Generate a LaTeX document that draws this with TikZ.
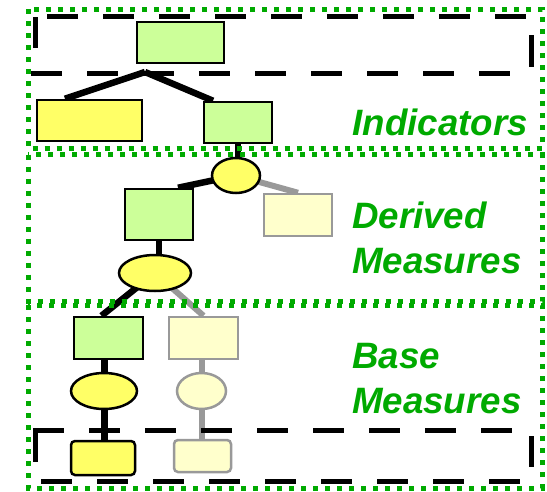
\documentclass[tikz,border=0pt]{standalone}
\usepackage{fontspec}
\newfontfamily\labfont{Liberation Sans}
\usetikzlibrary{shapes.geometric,backgrounds}
\definecolor{lgreen}{HTML}{CCFF99}
\definecolor{myyel}{HTML}{FFFF66}
\definecolor{pale}{HTML}{FFFFCC}
\definecolor{edgegray}{HTML}{999999}
\definecolor{labgreen}{HTML}{00AA00}
\begin{document}
\begin{tikzpicture}[x=1pt,y=-1pt,
  nbox/.style={rectangle, draw=black, line width=2.5pt, inner sep=0pt},
  gbox/.style={nbox, fill=lgreen},
  ybox/.style={nbox, fill=myyel},
  pbox/.style={nbox, draw=edgegray, fill=pale},
  yell/.style={ellipse, draw=black, line width=2.5pt, inner sep=0pt, fill=myyel},
  pell/.style={yell, draw=edgegray, fill=pale},
  blk/.style={draw=black, line width=6.5pt},
  gry/.style={draw=edgegray, line width=6pt},
  gframe/.style={draw=labgreen, line width=5pt, dash pattern=on 5pt off 7pt},
  bframe/.style={draw=black, line width=5pt, dash pattern=on 31pt off 25pt},
  bseg/.style={draw=black, line width=5pt},
  labl/.style={text=labgreen, inner sep=0pt, font=\labfont\bfseries\itshape\fontsize{36.7}{40}\selectfont}
]
\useasboundingbox (0,0) rectangle (547,491);

% green dotted level frames
\draw[gframe] (28,9) rectangle (542,148.5);
\draw[gframe] (28,154.5) rectangle (542,301);
\draw[gframe] (28,305) rectangle (542,488);

% black dashed frames
\draw[bframe] (47,16) -- (527,16);
\draw[bframe] (31,73) -- (513,73);
\draw[bseg] (35,17) -- (35,48);
\draw[bseg] (531,35) -- (531,67);

\draw[bframe] (33,430) -- (513,430);
\draw[bframe] (41,481) -- (521,481);
\draw[bseg] (35,430) -- (35,462);
\draw[bseg] (531,436) -- (531,467);

% nodes
\node[gbox, minimum width=87pt, minimum height=41pt] (top) at (180.5,42.5) {};
\coordinate (j) at (145,72);
\node[ybox, minimum width=105pt, minimum height=41pt] (ind1) at (89.5,120.5) {};
\node[gbox, minimum width=68pt, minimum height=41pt] (ind2) at (238,122.5) {};

\node[yell, minimum width=48pt, minimum height=35pt] (e1) at (236,175.5) {};
\node[gbox, minimum width=68pt, minimum height=51pt] (dm1) at (159,214.5) {};
\node[pbox, minimum width=68pt, minimum height=42pt] (dm2) at (298,215) {};
\node[yell, minimum width=72pt, minimum height=36pt] (e2) at (155,273) {};

\node[gbox, minimum width=69pt, minimum height=42pt] (bm1) at (108.5,338) {};
\node[pbox, minimum width=69pt, minimum height=42pt] (bm2) at (203.5,338) {};
\node[yell, minimum width=66pt, minimum height=36pt] (e3) at (104,391) {};
\node[pell, minimum width=49pt, minimum height=36pt] (e4) at (201.5,391) {};
\node[ybox, rounded corners=4pt, minimum width=64pt, minimum height=34pt] (b1) at (103,458) {};
\node[pbox, rounded corners=4pt, minimum width=57pt, minimum height=32pt] (b2) at (202.5,456) {};

% connectors
\begin{pgfonlayer}{background}
\draw[blk] (j) -- ([xshift=-24.5pt]ind1.north);
\draw[blk] (j) -- ([xshift=-25pt]ind2.north);
\draw[blk] (ind2.south) -- (ind2.south |- e1.center);
\draw[blk] (e1.center) -- ([xshift=19pt]dm1.north);
\draw[gry] (e1.center) -- (dm2.north);
\draw[blk] (dm1.south) -- (dm1.south |- e2.center);
\draw[blk] (e2.center) -- ([xshift=-7pt]bm1.north);
\draw[gry] (e2.center) -- (bm2.north);
\draw[blk] ([xshift=-4pt]bm1.south) -- ([xshift=-4pt]bm1.south |- b1.center);
\draw[gry] ([xshift=-2pt]bm2.south) -- ([xshift=-2pt]bm2.south |- b2.center);
\end{pgfonlayer}

% labels
\node[labl, anchor=base east] (lind) at (528,135) {Indicators};
\node[labl, anchor=base west] (lder) at (352,228) {Derived};
\node[labl, anchor=base west] (lmea1) at (352,273) {Measures};
\node[labl, anchor=base west] (lbase) at (352,368) {Base};
\node[labl, anchor=base west] (lmea2) at (352,413) {Measures};
\end{tikzpicture}
\end{document}
